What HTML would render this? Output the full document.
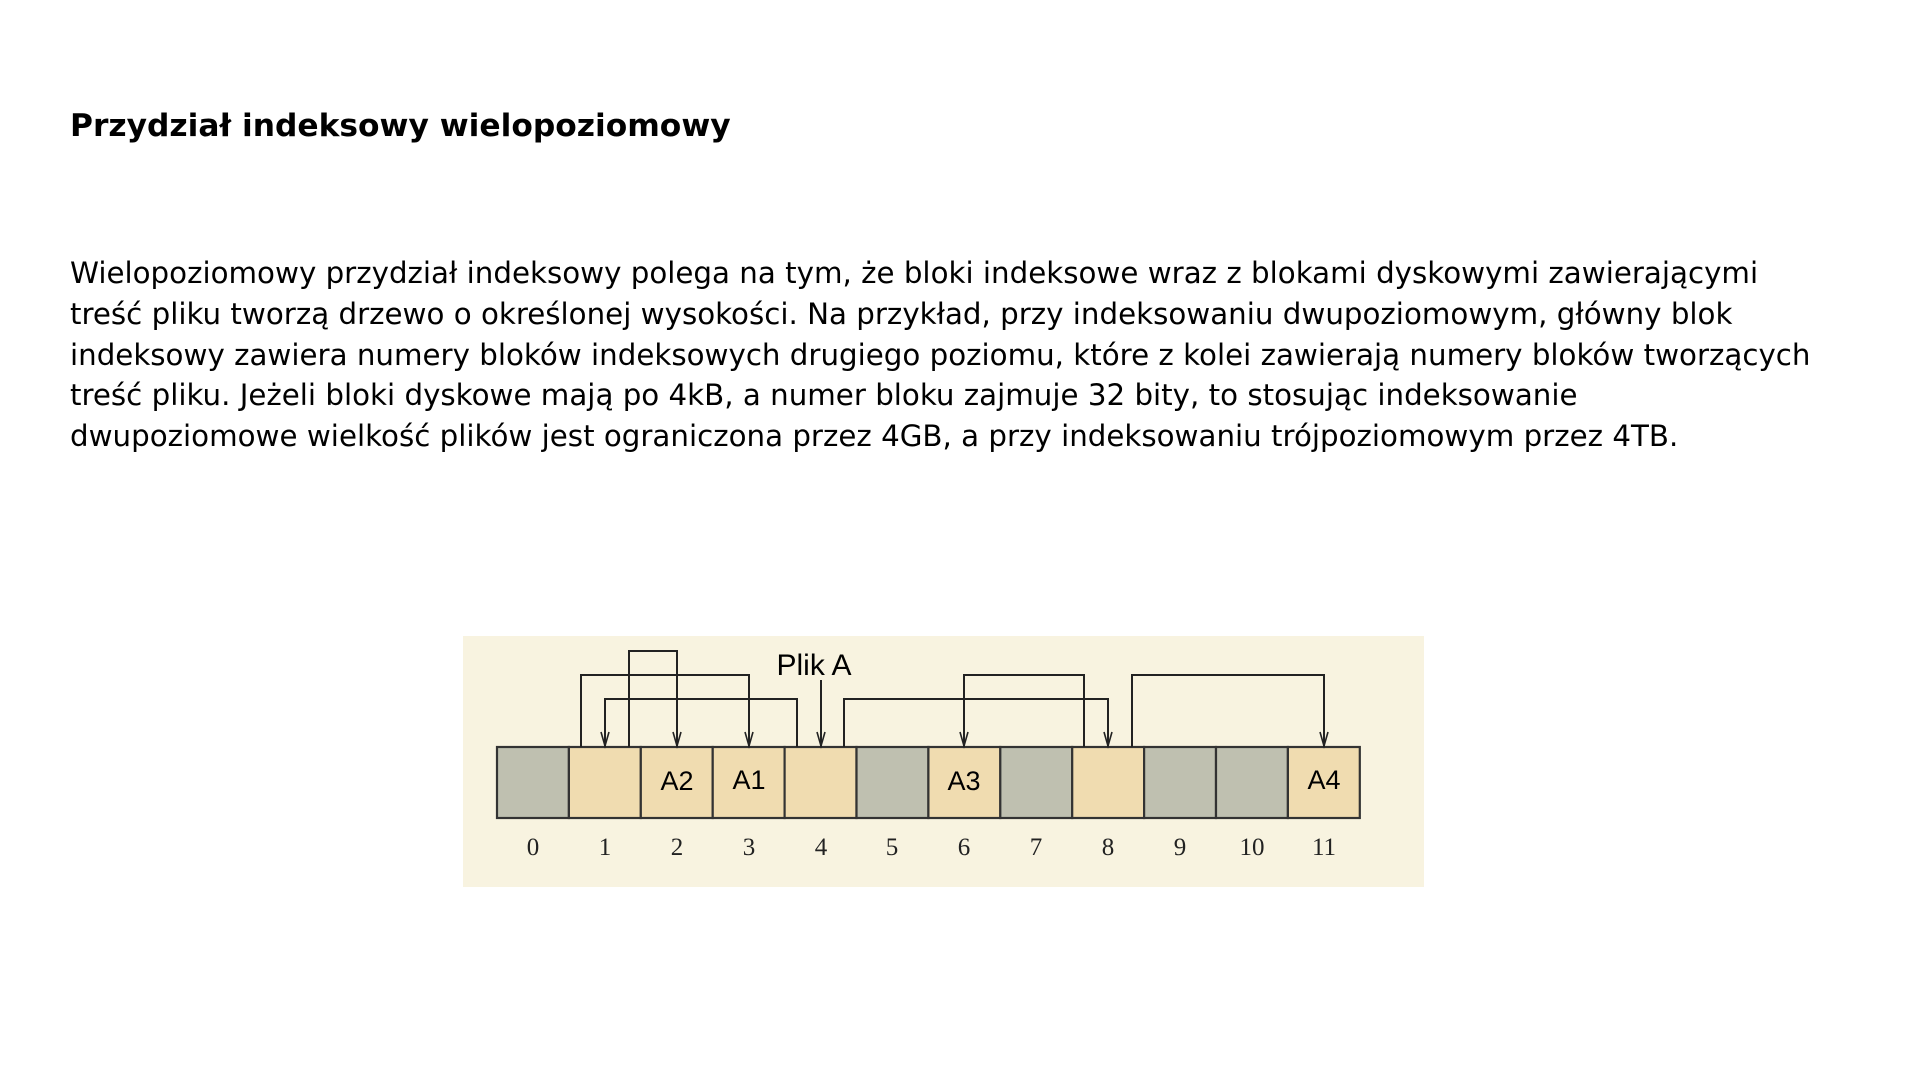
<!DOCTYPE html>
<html><head><meta charset="utf-8"><style>
body{margin:0;width:1920px;height:1080px;background:#fff;position:relative;overflow:hidden;font-family:"DejaVu Sans","Liberation Sans",sans-serif;color:#000}
h1{position:absolute;left:70px;top:106px;margin:0;font-size:31.3px;font-weight:bold;line-height:40px;white-space:nowrap}
p{position:absolute;left:70px;top:253px;margin:0;font-size:29.3px;line-height:40.8px;white-space:nowrap}
</style></head><body>
<h1>Przydział indeksowy wielopoziomowy</h1>
<p>Wielopoziomowy przydział indeksowy polega na tym, że bloki indeksowe wraz z blokami dyskowymi zawierającymi<br>treść pliku tworzą drzewo o określonej wysokości. Na przykład, przy indeksowaniu dwupoziomowym, główny blok<br>indeksowy zawiera numery bloków indeksowych drugiego poziomu, które z kolei zawierają numery bloków tworzących<br>treść pliku. Jeżeli bloki dyskowe mają po 4kB, a numer bloku zajmuje 32 bity, to stosując indeksowanie<br>dwupoziomowe wielkość plików jest ograniczona przez 4GB, a przy indeksowaniu trójpoziomowym przez 4TB.</p>
<svg style="position:absolute;left:0;top:0" width="1920" height="1080">
<rect x="463" y="636" width="961" height="251" fill="#f8f3e0"/>
<g stroke="#333" stroke-width="2.2">
<rect x="497" y="747" width="71.9" height="71" fill="#bfc0b0"/>
<rect x="568.9" y="747" width="71.9" height="71" fill="#f0dcb0"/>
<rect x="640.8" y="747" width="71.9" height="71" fill="#f0dcb0"/>
<rect x="712.7" y="747" width="71.9" height="71" fill="#f0dcb0"/>
<rect x="784.6" y="747" width="71.9" height="71" fill="#f0dcb0"/>
<rect x="856.5" y="747" width="71.9" height="71" fill="#bfc0b0"/>
<rect x="928.4" y="747" width="71.9" height="71" fill="#f0dcb0"/>
<rect x="1000.3" y="747" width="71.9" height="71" fill="#bfc0b0"/>
<rect x="1072.2" y="747" width="71.9" height="71" fill="#f0dcb0"/>
<rect x="1144.1" y="747" width="71.9" height="71" fill="#bfc0b0"/>
<rect x="1216" y="747" width="71.9" height="71" fill="#bfc0b0"/>
<rect x="1287.9" y="747" width="71.9" height="71" fill="#f0dcb0"/>
</g>
<g fill="none" stroke="#222" stroke-width="2">
<polyline points="629,747 629,651 677,651 677,747"/>
<polyline points="581,747 581,675 749,675 749,747"/>
<polyline points="1084,747 1084,675 964,675 964,747"/>
<polyline points="1132,747 1132,675 1324,675 1324,747"/>
<polyline points="797,747 797,699 605,699 605,747"/>
<polyline points="844,747 844,699 1108,699 1108,747"/>
<line x1="821" y1="680" x2="821" y2="747"/>
<g stroke-width="1.6">
<polyline points="601,732 605,746 609,732"/><polyline points="673,732 677,746 681,732"/><polyline points="745,732 749,746 753,732"/><polyline points="817,732 821,746 825,732"/><polyline points="960,732 964,746 968,732"/><polyline points="1104,732 1108,746 1112,732"/><polyline points="1320,732 1324,746 1328,732"/>
</g></g>
<g font-family="Liberation Sans,sans-serif" text-anchor="middle">
<text x="814" y="675" font-size="30">Plik A</text>
<g font-size="27"><text x="677" y="790">A2</text><text x="749" y="789">A1</text><text x="964" y="790">A3</text><text x="1324" y="789">A4</text></g>
</g>
<g font-family="Liberation Serif,serif" font-size="25" text-anchor="middle" fill="#222">
<text x="533" y="855">0</text><text x="605" y="855">1</text><text x="677" y="855">2</text><text x="749" y="855">3</text><text x="821" y="855">4</text><text x="892" y="855">5</text><text x="964" y="855">6</text><text x="1036" y="855">7</text><text x="1108" y="855">8</text><text x="1180" y="855">9</text><text x="1252" y="855">10</text><text x="1324" y="855">11</text>
</g>
</svg>
</body></html>
